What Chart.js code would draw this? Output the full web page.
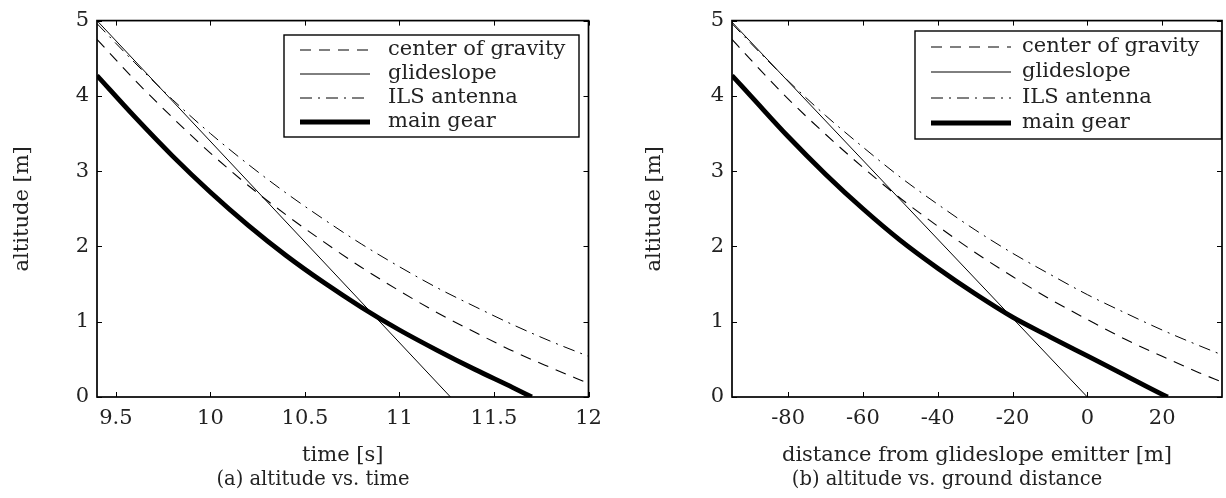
<!DOCTYPE html>
<html><head><meta charset="utf-8">
<script src="https://cdn.jsdelivr.net/npm/chart.js@4/dist/chart.umd.min.js"></script>
<style>
html,body{margin:0;padding:0;background:#fff;}
body{width:1226px;height:498px;position:relative;overflow:hidden;}
canvas{position:absolute;top:0;}
#cA{left:0;} #cB{left:626px;}
.cap{position:absolute;font-family:"DejaVu Serif";font-size:19.5px;color:#222;white-space:nowrap;transform:translateX(-50%);top:468px;line-height:22px;}
</style></head>
<body>
<canvas id="cA" width="626" height="468"></canvas>
<canvas id="cB" width="600" height="468"></canvas>
<div class="cap" style="left:313px">(a) altitude vs. time</div>
<div class="cap" style="left:947px">(b) altitude vs. ground distance</div>
<script>
// ---- data ----
const seriesNames = ['center of gravity', 'glideslope', 'ILS antenna', 'main gear'];
const yTicks = [0, 1, 2, 3, 4, 5];

// (a) altitude vs. time
const timeTicks = [9.5, 10, 10.5, 11, 11.5, 12];
const timeGrid = [9.4, 9.6, 9.8, 10.0, 10.2, 10.4, 10.6, 10.8, 11.0, 11.2, 11.4, 11.6, 11.8, 12.0];
const cogVsTime = [4.75, 4.21, 3.71, 3.24, 2.81, 2.42, 2.06, 1.72, 1.41, 1.12, 0.86, 0.61, 0.39, 0.18];
const ilsVsTime = [4.96, 4.44, 3.95, 3.50, 3.09, 2.71, 2.36, 2.03, 1.73, 1.45, 1.20, 0.96, 0.74, 0.54];
const gearTime = [9.4, 9.6, 9.8, 10.0, 10.2, 10.4, 10.6, 10.8, 11.0, 11.2, 11.4, 11.6, 11.7];
const gearVsTime = [4.27, 3.72, 3.20, 2.72, 2.28, 1.88, 1.52, 1.19, 0.89, 0.62, 0.365, 0.125, 0.0];
const glideTime = [9.4, 11.27];
const glideVsTime = [5.0, 0.0];

// (b) altitude vs. ground distance
const distTicks = [-80, -60, -40, -20, 0, 20];
const distGrid = [-95, -90, -80, -70, -60, -50, -40, -30, -20, -10, 0, 10, 20, 30, 36];
const cogVsDist = [4.75, 4.48, 3.96, 3.49, 3.05, 2.64, 2.27, 1.92, 1.60, 1.30, 1.03, 0.77, 0.54, 0.32, 0.20];
const ilsVsDist = [4.96, 4.70, 4.20, 3.74, 3.32, 2.92, 2.56, 2.22, 1.91, 1.63, 1.36, 1.12, 0.89, 0.68, 0.56];
const gearDist = [-95, -90, -80, -70, -60, -50, -40, -30, -20, -10, 0, 10, 20, 21.5];
const gearVsDist = [4.27, 4.00, 3.46, 2.96, 2.50, 2.08, 1.71, 1.37, 1.06, 0.80, 0.545, 0.29, 0.035, 0.0];
const glideDist = [-95.4, 0];
const glideVsDist = [5.0, 0.0];

// ---- helpers ----
const FONT = '"DejaVu Serif"';
const TXT = '#222';
const pts = (xs, ys) => xs.map((v, i) => ({x: v, y: ys[i]}));
const styles = [
  {borderWidth: 1.1, borderDash: [11, 8]},
  {borderWidth: 1, borderDash: []},
  {borderWidth: 1, borderDash: [12, 6, 2, 6]},
  {borderWidth: 4.8, borderDash: []}
];
function makeDatasets(sets) {
  return sets.map((d, i) => Object.assign({
    label: seriesNames[i], data: d, borderColor: '#000', backgroundColor: '#000',
    pointRadius: 0, fill: false, cubicInterpolationMode: 'monotone'
  }, styles[i]));
}

const framePlugin = {
  id: 'frame',
  afterDatasetsDraw(chart, args, o) {
    const {ctx, chartArea: a, scales: {x, y}} = chart;
    ctx.save();
    ctx.strokeStyle = '#000';
    ctx.lineWidth = 1;
    const L = 5;
    ctx.beginPath();
    x.ticks.forEach(t => {
      const p = Math.round(x.getPixelForValue(t.value)) + 0.5;
      ctx.moveTo(p, a.bottom); ctx.lineTo(p, a.bottom - L);
      ctx.moveTo(p, a.top); ctx.lineTo(p, a.top + L);
    });
    y.ticks.forEach(t => {
      const p = Math.round(y.getPixelForValue(t.value)) + 0.5;
      ctx.moveTo(a.left, p); ctx.lineTo(a.left + L, p);
      ctx.moveTo(a.right, p); ctx.lineTo(a.right - L, p);
    });
    ctx.stroke();
    ctx.lineWidth = 1.7;
    ctx.strokeRect(a.left, a.top, a.right - a.left, a.bottom - a.top);
    ctx.restore();
  },
  afterDraw(chart, args, o) {
    const {ctx} = chart;
    const [l, t, r, b] = o.box;
    ctx.save();
    ctx.fillStyle = '#fff';
    ctx.fillRect(l, t, r - l, b - t);
    ctx.strokeStyle = '#000';
    ctx.lineWidth = 1.4;
    ctx.strokeRect(l, t, r - l, b - t);
    chart.data.datasets.forEach((ds, i) => {
      const yy = o.rows[i];
      ctx.beginPath();
      ctx.lineWidth = ds.borderWidth;
      ctx.setLineDash(ds.borderDash || []);
      ctx.moveTo(o.sample[0], yy); ctx.lineTo(o.sample[1], yy);
      ctx.stroke();
      ctx.setLineDash([]);
      ctx.fillStyle = TXT;
      ctx.font = '21px ' + FONT;
      ctx.textBaseline = 'middle';
      ctx.textAlign = 'left';
      ctx.fillText(ds.label, o.textX, yy + o.textDy);
    });
    ctx.restore();
  }
};

function makeChart(id, datasets, xMin, xMax, xTickVals, xTitle, pad, yWidth, legendCfg) {
  return new Chart(document.getElementById(id), {
    type: 'line',
    data: {datasets},
    plugins: [framePlugin],
    options: {
      responsive: false, animation: false, devicePixelRatio: 1,
      layout: {padding: pad},
      plugins: {legend: {display: false}, tooltip: {enabled: false}, frame: legendCfg},
      scales: {
        x: {
          type: 'linear', min: xMin, max: xMax,
          afterBuildTicks: s => { s.ticks = xTickVals.map(v => ({value: v})); },
          afterFit: s => { s.height = 71; },
          grid: {display: false, drawTicks: false},
          border: {display: false},
          ticks: {font: {family: FONT, size: 21}, color: TXT, padding: 9, maxRotation: 0, autoSkip: false,
                  callback: v => String(v)},
          title: {display: true, text: xTitle, font: {family: FONT, size: 21}, color: TXT, padding: 0}
        },
        y: {
          type: 'linear', min: 0, max: 5,
          afterBuildTicks: s => { s.ticks = yTicks.map(v => ({value: v})); },
          afterFit: s => { s.width = yWidth; },
          grid: {display: false, drawTicks: false},
          border: {display: false},
          ticks: {font: {family: FONT, size: 21}, color: TXT, padding: 8, callback: v => String(v)},
          title: {display: true, text: 'altitude [m]', font: {family: FONT, size: 21}, color: TXT, padding: 0}
        }
      }
    }
  });
}

makeChart('cA',
  makeDatasets([pts(timeGrid, cogVsTime), pts(glideTime, glideVsTime), pts(timeGrid, ilsVsTime), pts(gearTime, gearVsTime)]),
  9.4, 12, timeTicks, 'time [s]',
  {left: 10, right: 37.5, top: 14.5, bottom: 0}, 87,
  {box: [284, 35, 579, 137], sample: [300, 370], textX: 388, rows: [50, 74, 98, 122], textDy: 0});

makeChart('cB',
  makeDatasets([pts(distGrid, cogVsDist), pts(glideDist, glideVsDist), pts(distGrid, ilsVsDist), pts(gearDist, gearVsDist)]),
  -95, 36, distTicks, 'distance from glideslope emitter [m]',
  {left: 16, right: 4, top: 14.5, bottom: 0}, 90,
  {box: [289, 31, 595.5, 139], sample: [305, 385], textX: 396, rows: [47, 72, 98, 123], textDy: 0});
</script>
</body></html>
